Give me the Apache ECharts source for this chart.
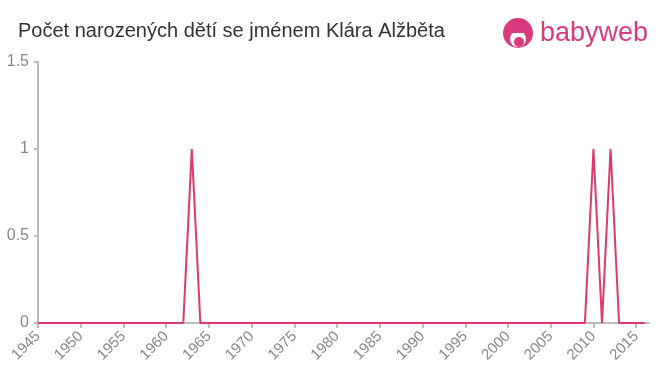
<!DOCTYPE html>
<html><head><meta charset="utf-8">
<script src="https://cdn.jsdelivr.net/npm/echarts@6/dist/echarts.min.js"></script>
<style>html,body{margin:0;padding:0;background:#fff}#c{width:660px;height:375px}</style>
</head><body><div id="c"></div>
<script>
const titleText = "Počet narozených dětí se jménem Klára Alžběta";
const years = [];
for (let y = 1945; y <= 2016; y++) years.push(y);
const peakYears = [1963, 2010, 2012];
const peakValues = [1, 1, 1];
const values = years.map(y => { const i = peakYears.indexOf(y); return i >= 0 ? peakValues[i] : 0; });
const yTicks = [0, 0.5, 1, 1.5];

const chart = echarts.init(document.getElementById('c'));
chart.setOption({
  animation: false,
  title: { text: titleText, left: 13, top: 16, textStyle: { fontFamily: 'Liberation Sans, Arial', fontSize: 20, fontWeight: 'normal', color: '#333' } },
  grid: { left: 38, right: 11, top: 62, bottom: 52 },
  xAxis: {
    type: 'value', min: 1945, max: 2016.5, interval: 5,
    axisLine: { lineStyle: { color: '#bbb', width: 2 } },
    axisTick: { lineStyle: { color: '#bbb', width: 2 }, length: 5 },
    splitLine: { show: false },
    axisLabel: { rotate: 45, color: '#888', fontSize: 15, fontFamily: 'Liberation Sans, Arial', showMaxLabel: false, margin: 11, formatter: v => String(v) }
  },
  yAxis: {
    type: 'value', min: 0, max: 1.5, interval: 0.5,
    axisLine: { show: true, lineStyle: { color: '#bbb', width: 2 } },
    axisTick: { show: true, lineStyle: { color: '#bbb', width: 2 }, length: 4 },
    splitLine: { show: false },
    axisLabel: { color: '#888', fontSize: 16, fontFamily: 'Liberation Sans, Arial', margin: 9 }
  },
  series: [{
    type: 'line', data: years.map((y, i) => [y, values[i]]),
    showSymbol: false, lineStyle: { color: '#dc3a6b', width: 2 }, itemStyle: { color: '#dc3a6b' }
  }],
  graphic: [
    { type: 'circle', shape: { cx: 518, cy: 33, r: 15 }, style: { fill: '#d93a7e' } },
    { type: 'circle', shape: { cx: 518, cy: 39, r: 8 }, style: { fill: '#fff' } },
    { type: 'circle', shape: { cx: 519, cy: 42, r: 5 }, style: { fill: '#d93a7e' } },
    { type: 'rect', shape: { x: 507, y: 27, width: 22, height: 6 }, style: { fill: '#d93a7e' } },
    { type: 'text', x: 540, y: 34, style: { text: 'babyweb', fill: '#d93a7e', font: '500 27px "Liberation Sans", Arial', verticalAlign: 'middle' } }
  ]
});
</script></body></html>
